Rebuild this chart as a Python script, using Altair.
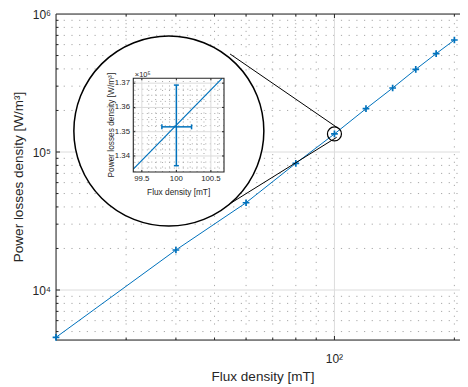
import altair as alt
import pandas as pd

# ---------------- data ----------------
flux = [20, 40, 60, 80, 100, 120, 140, 160, 180, 200]
loss = [4.54e3, 1.95e4, 4.29e4, 8.28e4, 1.352e5, 2.06e5, 2.91e5, 3.97e5, 5.16e5, 6.48e5]

x_domain = [20, 216.4]
y_domain = [4343, 1e6]
x_label_ticks = [100]
x_tick_labels = ["10²"]
y_label_ticks = [1e4, 1e5, 1e6]
y_tick_labels = ["10⁴", "10⁵", "10⁶"]
x_major = [100]
x_minor = [30, 40, 50, 60, 70, 80, 90, 200]
y_major = [1e4, 1e5]
y_minor = [5e3, 6e3, 7e3, 8e3, 9e3, 2e4, 3e4, 4e4, 5e4, 6e4, 7e4, 8e4, 9e4,
           2e5, 3e5, 4e5, 5e5, 6e5, 7e5, 8e5, 9e5]
x_title = ["Flux density [mT]"]
y_title = ["Power losses density [W/m³]"]

zoom_i = 4  # index of the magnified point
lens_x = [38.4]
lens_y = [1.419e5]
conn_x1 = [101.7, 101.3]
conn_y1 = [1.500e5, 1.278e5]
conn_x2 = [54.7, 50.1]
conn_y2 = [5.13e5, 3.61e4]

inset_x_domain = [99.376, 100.69]
inset_y_domain = [1.3334, 1.372]
inset_x_ticks = [99.5, 100, 100.5]
inset_x_labels = ["99.5", "100", "100.5"]
inset_x_minor = [99.4, 99.6, 99.7, 99.8, 99.9, 100.1, 100.2, 100.3, 100.4, 100.6]
inset_y_ticks = [1.34, 1.35, 1.36, 1.37]
inset_y_labels = ["1.34", "1.35", "1.36", "1.37"]
inset_y_minor = [1.335, 1.3375, 1.3425, 1.345, 1.3475, 1.3525, 1.355,
                 1.3575, 1.3625, 1.365, 1.3675]
inset_line_x = [99.376, 100.662]
inset_line_y = [1.3346, 1.372]
err_x = [99.79, 100.22]
err_y = [1.3360, 1.3692]
inset_exp_label = ["×10⁵"]

# ---------------- style / layout ----------------
W, H = 412, 326
FONT = "Liberation Sans"
AX = "#262626"
BLUE = "#0072BD"
MINOR = "#a8a8a8"
MAJOR = "#dcdcdc"
DOT = [1.2, 6.5]
INSET_XR = [77.3, 168]
INSET_YR = [158, 64.3]

XS = alt.Scale(type="log", domain=x_domain, nice=False)
YS = alt.Scale(type="log", domain=y_domain, nice=False)


def mx(f):
    return alt.X(f, type="quantitative", scale=XS, axis=None)


def my(f):
    return alt.Y(f, type="quantitative", scale=YS, axis=None)


layers = []


def vgrid(vals, color, dash=None):
    df = pd.DataFrame({"v": vals, "a": y_domain[0], "b": y_domain[1]})
    kw = dict(color=color, strokeWidth=1)
    if dash:
        kw["strokeDash"] = dash
    return alt.Chart(df).mark_rule(**kw).encode(x=mx("v"), y=my("a"), y2="b")


def hgrid(vals, color, dash=None):
    df = pd.DataFrame({"v": vals, "a": x_domain[0], "b": x_domain[1]})
    kw = dict(color=color, strokeWidth=1)
    if dash:
        kw["strokeDash"] = dash
    return alt.Chart(df).mark_rule(**kw).encode(y=my("v"), x=mx("a"), x2="b")


layers += [vgrid(x_minor, MINOR, DOT), hgrid(y_minor, MINOR, DOT),
           vgrid(x_major, MAJOR), hgrid(y_major, MAJOR)]

# frame (left, top, bottom)
layers += [hgrid([y_domain[0], y_domain[1]], AX), vgrid([x_domain[0]], AX)]


def xticks(vals, length):
    out = []
    for edge, sgn in ((y_domain[0], -1), (y_domain[1], 1)):
        df = pd.DataFrame({"v": vals, "a": edge})
        out.append(alt.Chart(df).mark_rule(color=AX, strokeWidth=1, y2Offset=sgn * length)
                   .encode(x=mx("v"), y=my("a"), y2="a"))
    return out


def yticks(vals, length):
    df = pd.DataFrame({"v": vals, "a": x_domain[0]})
    return [alt.Chart(df).mark_rule(color=AX, strokeWidth=1, x2Offset=length)
            .encode(y=my("v"), x=mx("a"), x2="a")]


layers += xticks(x_minor, 2.5) + xticks(x_major, 4) + yticks(y_minor, 2.5) + yticks(y_major, 4)

# tick labels and titles
xl = pd.DataFrame({"v": x_label_ticks, "a": y_domain[0], "t": x_tick_labels})
layers.append(alt.Chart(xl).mark_text(align="center", baseline="alphabetic", dy=22.7,
                                      font=FONT, fontSize=12, color=AX)
              .encode(x=mx("v"), y=my("a"), text="t:N"))
yl = pd.DataFrame({"v": y_label_ticks, "a": x_domain[0], "t": y_tick_labels})
layers.append(alt.Chart(yl).mark_text(align="right", baseline="alphabetic", dx=-5, dy=5,
                                      font=FONT, fontSize=12, color=AX)
              .encode(y=my("v"), x=mx("a"), text="t:N"))
layers.append(alt.Chart(pd.DataFrame({"t": x_title}))
              .mark_text(align="center", baseline="alphabetic", font=FONT, fontSize=13.5, color=AX)
              .encode(x=alt.value(207), y=alt.value(H + 40.5), text="t:N"))
layers.append(alt.Chart(pd.DataFrame({"t": y_title}))
              .mark_text(align="center", baseline="alphabetic", angle=270, font=FONT,
                         fontSize=13.5, color=AX)
              .encode(x=alt.value(-32.7), y=alt.value(H / 2), text="t:N"))

main_df = pd.DataFrame({"flux": flux, "loss": loss})
layers.append(alt.Chart(main_df).mark_line(color=BLUE, strokeWidth=1)
              .encode(x=mx("flux"), y=my("loss")))
layers.append(alt.Chart(main_df).mark_point(shape="M-1,0L1,0M0,-1L0,1", size=45, filled=False,
                                            color=BLUE, strokeWidth=1.7, opacity=1)
              .encode(x=mx("flux"), y=my("loss")))

zdf = pd.DataFrame({"flux": [flux[zoom_i]], "loss": [loss[zoom_i]]})
layers.append(alt.Chart(zdf).mark_point(shape="circle", size=196, filled=False, color="black",
                                        strokeWidth=1.2, opacity=1)
              .encode(x=mx("flux"), y=my("loss")))

cdf = pd.DataFrame({"x1": conn_x1, "y1": conn_y1, "x2": conn_x2, "y2": conn_y2})
layers.append(alt.Chart(cdf).mark_rule(color="black", strokeWidth=1)
              .encode(x=mx("x1"), y=my("y1"), x2="x2", y2="y2"))

ldf = pd.DataFrame({"x": lens_x, "y": lens_y})
layers.append(alt.Chart(ldf).mark_circle(size=190 ** 2, color="white", stroke="black",
                                         strokeWidth=1.5, opacity=1)
              .encode(x=mx("x"), y=my("y")))

main = alt.layer(*layers)

# ---------------- inset ----------------
IXS = alt.Scale(domain=inset_x_domain, range=INSET_XR, nice=False, zero=False)
IYS = alt.Scale(domain=inset_y_domain, range=INSET_YR, nice=False, zero=False)


def ix(f):
    return alt.X(f, type="quantitative", scale=IXS, axis=None)


def iy(f):
    return alt.Y(f, type="quantitative", scale=IYS, axis=None)


il = []


def ivgrid(vals, color, dash=None):
    df = pd.DataFrame({"v": vals, "a": inset_y_domain[0], "b": inset_y_domain[1]})
    kw = dict(color=color, strokeWidth=1)
    if dash:
        kw["strokeDash"] = dash
    return alt.Chart(df).mark_rule(**kw).encode(x=ix("v"), y=iy("a"), y2="b")


def ihgrid(vals, color, dash=None):
    df = pd.DataFrame({"v": vals, "a": inset_x_domain[0], "b": inset_x_domain[1]})
    kw = dict(color=color, strokeWidth=1)
    if dash:
        kw["strokeDash"] = dash
    return alt.Chart(df).mark_rule(**kw).encode(y=iy("v"), x=ix("a"), x2="b")


il += [ivgrid(inset_x_minor, MINOR, [1, 3.5]), ihgrid(inset_y_minor, MINOR, [1, 3.5]),
       ivgrid(inset_x_ticks, MAJOR), ihgrid(inset_y_ticks, MAJOR)]

ildf = pd.DataFrame({"x": inset_line_x, "y": inset_line_y})
il.append(alt.Chart(ildf).mark_line(color=BLUE, strokeWidth=1.2)
          .encode(x=ix("x"), y=iy("y")))

cx, cy = flux[zoom_i], loss[zoom_i] / 1e5
vdf = pd.DataFrame({"x": [cx], "y1": [err_y[0]], "y2": [err_y[1]]})
il.append(alt.Chart(vdf).mark_rule(color=BLUE, strokeWidth=1.5)
          .encode(x=ix("x"), y=iy("y1"), y2="y2"))
hdf = pd.DataFrame({"y": [cy], "x1": [err_x[0]], "x2": [err_x[1]]})
il.append(alt.Chart(hdf).mark_rule(color=BLUE, strokeWidth=1.5)
          .encode(y=iy("y"), x=ix("x1"), x2="x2"))
capv = pd.DataFrame({"x": [cx, cx], "y": err_y})
il.append(alt.Chart(capv).mark_rule(color=BLUE, strokeWidth=1.5, xOffset=-2.5, x2Offset=2.5)
          .encode(x=ix("x"), x2="x", y=iy("y")))
caph = pd.DataFrame({"x": err_x, "y": [cy, cy]})
il.append(alt.Chart(caph).mark_rule(color=BLUE, strokeWidth=1.5, yOffset=-2.5, y2Offset=2.5)
          .encode(y=iy("y"), y2="y", x=ix("x")))

fdf = pd.DataFrame({"x1": [inset_x_domain[0]], "x2": [inset_x_domain[1]],
                    "y1": [inset_y_domain[0]], "y2": [inset_y_domain[1]]})
il.append(alt.Chart(fdf).mark_rect(filled=False, stroke=AX, strokeWidth=1.1, fillOpacity=0)
          .encode(x=ix("x1"), x2="x2", y=iy("y1"), y2="y2"))

for edge, sgn in ((inset_y_domain[0], -1), (inset_y_domain[1], 1)):
    df = pd.DataFrame({"v": inset_x_ticks, "a": edge})
    il.append(alt.Chart(df).mark_rule(color=AX, strokeWidth=1, y2Offset=sgn * 2)
              .encode(x=ix("v"), y=iy("a"), y2="a"))
for edge, sgn in ((inset_x_domain[0], 1), (inset_x_domain[1], -1)):
    df = pd.DataFrame({"v": inset_y_ticks, "a": edge})
    il.append(alt.Chart(df).mark_rule(color=AX, strokeWidth=1, x2Offset=sgn * 2)
              .encode(y=iy("v"), x=ix("a"), x2="a"))

ixl = pd.DataFrame({"v": inset_x_ticks, "a": inset_y_domain[0], "t": inset_x_labels})
il.append(alt.Chart(ixl).mark_text(align="center", baseline="alphabetic", dy=9.3,
                                   font=FONT, fontSize=7.8, color=AX)
          .encode(x=ix("v"), y=iy("a"), text="t:N"))
iyl = pd.DataFrame({"v": inset_y_ticks, "a": inset_x_domain[0], "t": inset_y_labels})
il.append(alt.Chart(iyl).mark_text(align="right", baseline="middle", dx=-3.3,
                                   font=FONT, fontSize=7.8, color=AX)
          .encode(y=iy("v"), x=ix("a"), text="t:N"))
il.append(alt.Chart(pd.DataFrame({"t": x_title}))
          .mark_text(align="center", baseline="alphabetic", font=FONT, fontSize=8.3, color=AX)
          .encode(x=alt.value((INSET_XR[0] + INSET_XR[1]) / 2), y=alt.value(INSET_YR[0] + 22.7),
                  text="t:N"))
il.append(alt.Chart(pd.DataFrame({"t": y_title}))
          .mark_text(align="center", baseline="alphabetic", angle=270, font=FONT, fontSize=8.3,
                     color=AX)
          .encode(x=alt.value(INSET_XR[0] - 19.6), y=alt.value((INSET_YR[0] + INSET_YR[1]) / 2),
                  text="t:N"))

edf = pd.DataFrame({"x": [inset_x_domain[0]], "y": [inset_y_domain[1]], "t": inset_exp_label})
il.append(alt.Chart(edf).mark_text(align="left", baseline="alphabetic", dx=1.5, dy=-1.5,
                                   font=FONT, fontSize=7.5, color=AX)
          .encode(x=ix("x"), y=iy("y"), text="t:N"))

inset = alt.layer(*il)

chart = (alt.layer(main, inset)
         .resolve_scale(x="independent", y="independent")
         .properties(width=W, height=H, autosize="none",
                     padding={"left": 48, "top": 6, "right": -8, "bottom": 44})
         .configure_view(stroke=None)
         .configure(background="white"))

chart.save("out.html", embed_options={"renderer": "svg", "actions": False})
